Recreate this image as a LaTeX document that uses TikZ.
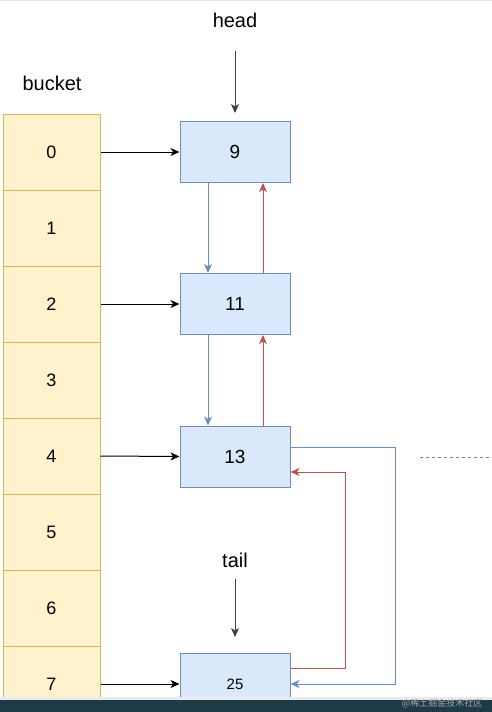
\documentclass[tikz,border=0pt]{standalone}
\usepackage{fontspec}
\setmainfont{Liberation Sans}
\newfontfamily\cjkfont{Noto Sans CJK SC}
\usetikzlibrary{arrows,arrows.meta,positioning}
\definecolor{bkFill}{HTML}{FFF2CC}
\definecolor{bkLine}{HTML}{D6B656}
\definecolor{ndFill}{HTML}{DAE8FC}
\definecolor{ndLine}{HTML}{6C8EBF}
\definecolor{ptRed}{HTML}{B85450}
\definecolor{barDark}{HTML}{1E3A47}

\begin{document}
\begin{tikzpicture}[x=1pt,y=-1pt,line width=1pt,
  cell/.style={draw=bkLine,fill=bkFill,minimum width=97pt,minimum height=76pt,inner sep=0pt,font=\fontsize{18}{21}\selectfont},
  entry/.style={draw=ndLine,fill=ndFill,minimum width=110pt,minimum height=61pt,inner sep=0pt,font=\fontsize{19}{22}\selectfont},
  lbl/.style={font=\fontsize{20}{23}\selectfont},
  ptr/.style={-{Stealth[length=9pt,width=8pt,inset=2.5pt]},black},
  nxt/.style={ptr,ndLine},
  prv/.style={ptr,ptRed}]
  \useasboundingbox (0,0) rectangle (492,712);
  \fill[white] (0,0) rectangle (492,712);
  \draw[black!10,line width=2pt] (0,0) -- (492,0);
  \begin{scope}
    \clip (0,0) rectangle (492,698);
    % bucket array
    \foreach \i in {0,...,7}
      \node[cell] (b\i) at (51.5,152+76*\i) {\i};
    \node[lbl] (bk) at (52,83) {bucket};
    % entries
    \node[entry] (n9) at (235,152) {9};
    \node[entry] (n11) at (235,304) {11};
    \node[entry] (n13) at (235,456.5) {13};
    \node[entry,font=\fontsize{15}{17}\selectfont] (n25) at (235,684) {25};
    \node[lbl] (hd) at (235,20) {head};
    \node[lbl] (tl) at (235,560) {tail};
    % bucket -> entry
    \draw[ptr] (b0.east) -- (n9.west);
    \draw[ptr] (b2.east) -- (n11.west);
    \draw[ptr] (b4.east) -- (n13.west);
    \draw[ptr] (b7.east) -- (n25.west);
    \draw[ptr,black!75] ([yshift=-20pt]hd.south) -- ([yshift=8pt]n9.north);
    \draw[ptr,black!75] ([yshift=-8pt]tl.south) -- ([yshift=16pt]n25.north);
    % next / prev
    \draw[nxt] ([xshift=-27pt]n9.south) -- ([xshift=-27pt]n11.north);
    \draw[nxt] ([xshift=-27pt]n11.south) -- ([xshift=-27pt]n13.north);
    \draw[prv] ([xshift=28pt]n11.north) -- ([xshift=28pt]n9.south);
    \draw[prv] ([xshift=28pt]n13.north) -- ([xshift=28pt]n11.south);
    \draw[nxt] ([yshift=9.5pt]n13.east) -- ++(105,0) |- (n25.east);
    \draw[prv] ([yshift=16pt]n25.east) -- ++(55,0) |- ([yshift=-15.5pt]n13.east);
    \draw[black!50,dashed,thick] (420,457) -- (490,457);
  \end{scope}
  \fill[black!8] (0,697) rectangle (492,700);
  \fill[barDark] (0,700) rectangle (492,712);
  \node[black!35,font=\cjkfont\fontsize{9}{10}\selectfont] (wm) at (442,703) {@稀土掘金技术社区};
\end{tikzpicture}
\end{document}
